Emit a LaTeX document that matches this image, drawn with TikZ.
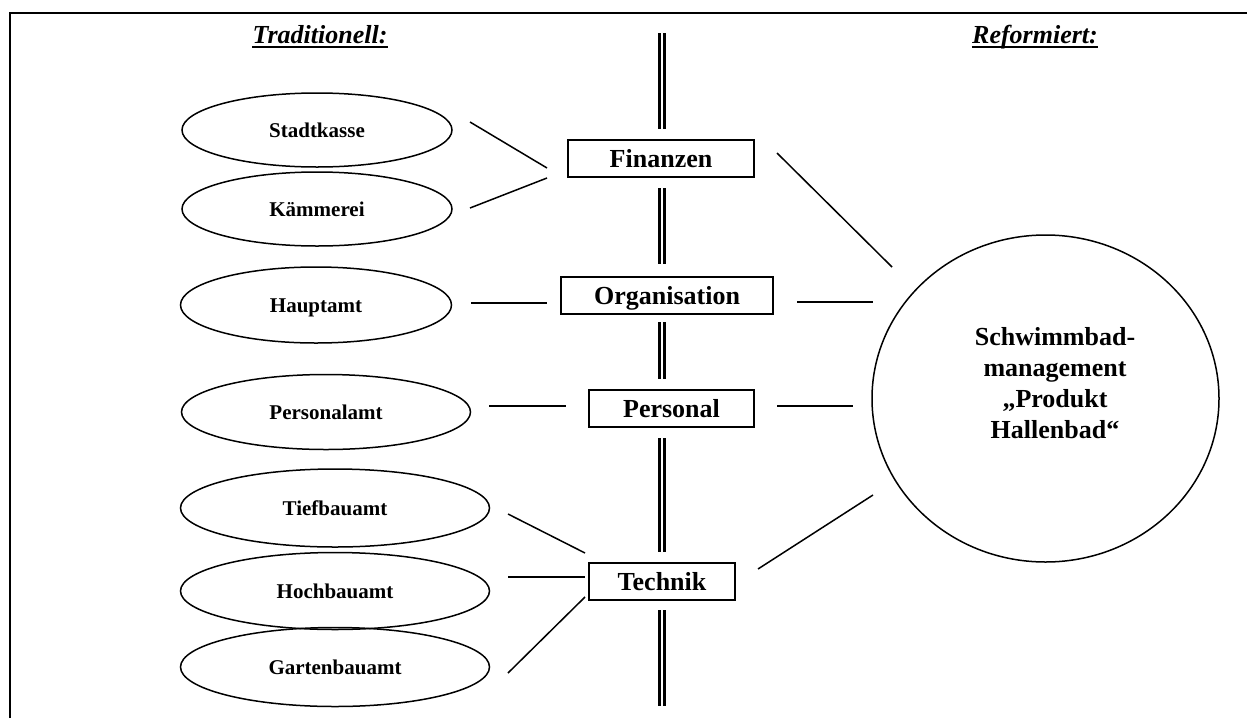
\documentclass[tikz,border=0pt]{standalone}
\usepackage{fontspec}
\setmainfont{Liberation Serif}
\usetikzlibrary{shapes.geometric}
\begin{document}
\begin{tikzpicture}[x=1pt,y=-1pt,
  oval/.style={draw, ellipse, line width=1.5pt, inner sep=0pt, text height=14pt, text depth=0pt,
    font=\fontsize{21}{24}\selectfont\bfseries},
  dept/.style={draw, rectangle, line width=2pt, minimum height=37pt, inner sep=0pt,
    text height=18pt, text depth=0pt, font=\fontsize{26}{30}\selectfont\bfseries},
  conn/.style={line width=1.5pt},
  dbl/.style={double, line width=2.5pt, double distance=2.5pt},
  head/.style={anchor=base, inner sep=0pt, font=\fontsize{26}{30}\selectfont\bfseries\itshape},
  uline/.style={line width=2.2pt}]
\useasboundingbox (0,0) rectangle (1247,718);
% frame
\draw[line width=2pt] (10,718) -- (10,13) -- (1247,13);
% headings
\node[head] (trad) at (320,43) {Traditionell:};
\node[head] (ref) at (1035,43) {Reformiert:};
\draw[uline] ([yshift=-4pt]trad.base west) -- ([yshift=-4pt]trad.base east);
\draw[uline] ([yshift=-4pt]ref.base west) -- ([yshift=-4pt]ref.base east);
% traditional offices
\node[oval, minimum width=270pt, minimum height=74pt] (stadt) at (317,130) {Stadtkasse};
\node[oval, minimum width=270pt, minimum height=74pt] (kamm) at (317,209) {Kämmerei};
\node[oval, minimum width=271pt, minimum height=76pt] (haupt) at (316,305) {Hauptamt};
\node[oval, minimum width=289pt, minimum height=75pt] (pers) at (326,412) {Personalamt};
\node[oval, minimum width=309pt, minimum height=78pt] (tief) at (335,508) {Tiefbauamt};
\node[oval, minimum width=309pt, minimum height=77pt] (hoch) at (335,591) {Hochbauamt};
\node[oval, minimum width=309pt, minimum height=79pt] (garten) at (335,667) {Gartenbauamt};
% departments
\node[dept, minimum width=186pt] (fin) at (661,158.5) {Finanzen};
\node[dept, minimum width=212pt] (org) at (667,295.5) {Organisation};
\node[dept, minimum width=165pt] (per) at (671.5,408) {Personal};
\node[dept, minimum width=146pt] (tech) at (662,581.5) {Technik};
% reformed
\node[draw, ellipse, line width=1.5pt, minimum width=347pt, minimum height=327pt] (hall) at (1045.5,398.5) {};
\node[align=center, font=\fontsize{26}{31}\selectfont\bfseries] (halltxt) at (1055,383)
  {Schwimmbad-\\management\\„Produkt\\Hallenbad“};
% connector end points
\coordinate (stadtR) at (470,122); \coordinate (finLa) at (547,168);
\coordinate (kammR) at (470,208);  \coordinate (finLb) at (547,178);
\coordinate (finR) at (777,153);   \coordinate (hallA) at (892,267);
\coordinate (hauptR) at (471,303); \coordinate (orgL) at (547,303);
\coordinate (orgR) at (797,302);   \coordinate (hallB) at (873,302);
\coordinate (persR) at (489,406);  \coordinate (perL) at (566,406);
\coordinate (perR) at (777,406);   \coordinate (hallC) at (853,406);
\coordinate (tiefR) at (508,514);  \coordinate (techLa) at (585,553);
\coordinate (hochR) at (508,577);  \coordinate (techLb) at (585,577);
\coordinate (gartenR) at (508,673);\coordinate (techLc) at (585,597);
\coordinate (techR) at (758,569);  \coordinate (hallD) at (873,495);
\draw[conn] (stadtR) -- (finLa);
\draw[conn] (kammR) -- (finLb);
\draw[conn] (finR) -- (hallA);
\draw[conn] (hauptR) -- (orgL);
\draw[conn] (orgR) -- (hallB);
\draw[conn] (persR) -- (perL);
\draw[conn] (perR) -- (hallC);
\draw[conn] (tiefR) -- (techLa);
\draw[conn] (hochR) -- (techLb);
\draw[conn] (gartenR) -- (techLc);
\draw[conn] (techR) -- (hallD);
% double axis
\coordinate (ax0) at (662,33);  \coordinate (ax1) at (662,129);
\coordinate (ax2) at (662,188); \coordinate (ax3) at (662,264);
\coordinate (ax4) at (662,322); \coordinate (ax5) at (662,379);
\coordinate (ax6) at (662,438); \coordinate (ax7) at (662,552);
\coordinate (ax8) at (662,610); \coordinate (ax9) at (662,706);
\draw[dbl] (ax0) -- (ax1);
\draw[dbl] (ax2) -- (ax3);
\draw[dbl] (ax4) -- (ax5);
\draw[dbl] (ax6) -- (ax7);
\draw[dbl] (ax8) -- (ax9);
\end{tikzpicture}
\end{document}
